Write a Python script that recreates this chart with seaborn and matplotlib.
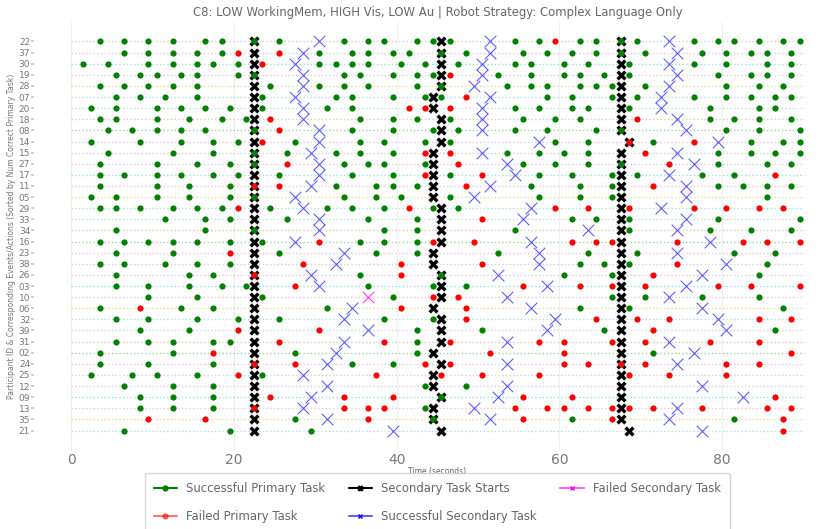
import numpy as np
import pandas as pd
import matplotlib
matplotlib.use("Agg")
import matplotlib.pyplot as plt
from matplotlib.lines import Line2D
import seaborn as sns

# Participants, top to bottom (sorted by number of correct primary tasks)
participants = ["22", "37", "30", "19", "28", "07", "20", "18", "08", "14",
                "15", "27", "17", "11", "05", "29", "33", "34", "16", "23",
                "38", "26", "03", "10", "06", "32", "39", "31", "02", "24",
                "25", "12", "09", "13", "35", "21"]

session_length = 90.0  # seconds

# Event times (seconds), one list per participant in the order above
success_primary = [
    [3.5, 6.5, 9.5, 12.5, 16.5, 18.5, 22.5, 25.5, 33.5, 36.5, 38.5, 42.5, 44.5, 46.5, 54.5, 57.5, 62.5, 64.5, 67.5, 69.5, 76.5, 79.5, 81.5, 84.5, 87.5, 89.5],
    [6.5, 9.5, 12.5, 15.5, 18.5, 30.5, 34.5, 36.5, 39.5, 41.5, 45.5, 48.5, 55.5, 58.5, 61.5, 64.5, 67.5, 70.5, 77.5, 80.5, 83.5, 85.5, 88.5],
    [1.5, 4.5, 9.5, 12.5, 15.5, 17.5, 20.5, 30.5, 32.5, 34.5, 36.5, 40.5, 43.5, 47.5, 54.5, 56.5, 60.5, 63.5, 68.5, 76.5, 80.5, 85.5, 88.5],
    [5.5, 8.5, 10.5, 13.5, 15.5, 20.5, 22.5, 33.5, 35.5, 39.5, 42.5, 44.5, 52.5, 56.5, 60.5, 62.5, 65.5, 68.5, 79.5, 83.5, 85.5, 88.5],
    [3.5, 6.5, 9.5, 12.5, 15.5, 24.5, 30.5, 33.5, 36.5, 42.5, 45.5, 53.5, 56.5, 58.5, 62.5, 64.5, 66.5, 70.5, 80.5, 84.5, 87.5],
    [5.5, 8.5, 11.5, 15.5, 23.5, 32.5, 34.5, 39.5, 43.5, 45.5, 58.5, 61.5, 66.5, 69.5, 76.5, 80.5, 83.5, 86.5, 88.5],
    [2.5, 5.5, 10.5, 13.5, 16.5, 19.5, 23.5, 31.5, 34.5, 54.5, 57.5, 61.5, 63.5, 68.5, 78.5, 84.5, 86.5],
    [3.5, 5.5, 10.5, 14.5, 18.5, 21.5, 35.5, 39.5, 42.5, 46.5, 55.5, 59.5, 62.5, 78.5, 81.5, 84.5, 88.5],
    [4.5, 7.5, 10.5, 13.5, 16.5, 22.5, 34.5, 39.5, 44.5, 47.5, 54.5, 58.5, 64.5, 67.5, 80.5, 84.5, 89.5],
    [2.5, 8.5, 13.5, 17.5, 20.5, 27.5, 35.5, 38.5, 43.5, 46.5, 59.5, 63.5, 71.5, 83.5, 87.5, 89.5],
    [4.5, 12.5, 17.5, 22.5, 26.5, 32.5, 35.5, 39.5, 53.5, 57.5, 60.5, 63.5, 79.5, 83.5, 86.5, 89.5],
    [3.5, 10.5, 15.5, 19.5, 22.5, 33.5, 36.5, 38.5, 43.5, 55.5, 59.5, 63.5, 67.5, 79.5, 85.5, 88.5],
    [3.5, 6.5, 10.5, 13.5, 17.5, 20.5, 25.5, 34.5, 39.5, 46.5, 57.5, 61.5, 66.5, 69.5, 77.5, 81.5],
    [3.5, 10.5, 14.5, 19.5, 32.5, 37.5, 39.5, 42.5, 56.5, 62.5, 66.5, 79.5, 82.5, 85.5, 88.5],
    [2.5, 5.5, 10.5, 14.5, 19.5, 22.5, 33.5, 37.5, 40.5, 46.5, 57.5, 62.5, 66.5, 85.5],
    [3.5, 5.5, 8.5, 12.5, 15.5, 18.5, 24.5, 31.5, 34.5, 38.5, 44.5, 47.5],
    [11.5, 16.5, 19.5, 26.5, 36.5, 42.5, 61.5, 64.5, 68.5, 79.5, 89.5],
    [5.5, 16.5, 22.5, 38.5, 42.5, 54.5, 68.5, 78.5, 83.5, 88.5],
    [3.5, 6.5, 9.5, 12.5, 15.5, 19.5, 23.5, 35.5, 38.5, 42.5],
    [5.5, 12.5, 25.5, 37.5, 42.5, 52.5, 63.5, 69.5, 81.5, 86.5],
    [3.5, 6.5, 11.5, 15.5, 19.5, 62.5, 65.5, 68.5, 85.5],
    [5.5, 14.5, 17.5, 35.5, 45.5, 60.5, 66.5, 84.5],
    [5.5, 9.5, 14.5, 18.5, 21.5, 36.5, 44.5, 48.5],
    [9.5, 15.5, 23.5, 39.5, 66.5, 70.5, 77.5, 84.5],
    [3.5, 13.5, 17.5, 31.5, 62.5, 68.5, 87.5],
    [5.5, 9.5, 15.5, 20.5, 25.5, 38.5, 44.5],
    [8.5, 14.5, 42.5, 50.5, 65.5, 86.5],
    [5.5, 9.5, 12.5, 17.5, 19.5, 42.5],
    [3.5, 12.5, 27.5, 42.5, 71.5],
    [3.5, 9.5, 17.5, 34.5, 39.5],
    [2.5, 7.5, 10.5, 15.5, 23.5],
    [6.5, 12.5, 17.5, 43.5, 48.5],
    [8.5, 12.5, 17.5, 45.5],
    [8.5, 12.5, 17.5, 43.5],
    [27.5, 44.5, 61.5, 81.5],
    [6.5, 19.5, 29.5],
]

failed_primary = [
    [59.5],
    [20.5, 25.5],
    [23.5],
    [46.5],
    [],
    [48.5],
    [41.5, 43.5, 46.5],
    [24.5, 69.5],
    [25.5],
    [23.5, 68.5, 76.5],
    [43.5, 46.5, 70.5],
    [26.5, 47.5, 73.5],
    [43.5, 50.5, 86.5],
    [22.5, 25.5, 48.5, 71.5],
    [],
    [20.5, 41.5, 59.5, 63.5, 68.5, 76.5, 80.5, 84.5, 87.5],
    [50.5],
    [],
    [30.5, 44.5, 49.5, 61.5, 64.5, 66.5, 74.5, 82.5, 85.5, 89.5],
    [19.5],
    [28.5, 40.5, 50.5, 74.5],
    [22.5, 40.5, 71.5],
    [27.5, 55.5, 62.5, 66.5, 70.5, 79.5, 83.5, 89.5],
    [44.5, 47.5],
    [8.5, 40.5, 48.5],
    [48.5, 64.5, 69.5, 73.5, 84.5, 88.5],
    [20.5, 30.5, 71.5],
    [25.5, 38.5, 46.5, 57.5, 60.5, 66.5, 70.5, 78.5, 84.5],
    [17.5, 51.5, 60.5, 88.5],
    [22.5, 27.5, 43.5, 46.5, 60.5, 63.5, 67.5, 70.5, 80.5, 84.5],
    [20.5, 37.5, 45.5, 50.5, 57.5, 68.5, 73.5, 80.5],
    [],
    [24.5, 33.5, 39.5, 55.5, 61.5, 86.5],
    [22.5, 33.5, 36.5, 38.5, 54.5, 58.5, 60.5, 63.5, 66.5, 68.5, 71.5, 77.5, 85.5, 88.5],
    [9.5, 16.5, 36.5, 55.5, 66.5, 87.5],
    [87.5],
]

secondary_start = [
    [22.5, 45.5, 67.5], [22.5, 45.5, 67.5], [22.5, 45.5, 67.5], [22.5, 45.5, 67.5],
    [22.5, 45.5, 67.5], [22.5, 44.5, 67.5], [22.5, 44.5, 67.5], [22.5, 45.5, 67.5],
    [22.5, 45.5, 67.5], [22.5, 45.5, 68.5], [22.5, 44.5, 67.5], [22.5, 44.5, 67.5],
    [22.5, 44.5, 67.5], [22.5, 44.5, 67.5], [22.5, 44.5, 67.5], [22.5, 45.5, 67.5],
    [22.5, 45.5, 67.5], [22.5, 45.5, 67.5], [22.5, 45.5, 67.5], [22.5, 44.5, 67.5],
    [22.5, 44.5, 67.5], [22.5, 45.5, 67.5], [22.5, 45.5, 67.5], [22.5, 45.5, 67.5],
    [22.5, 44.5, 67.5], [22.5, 45.5, 67.5], [22.5, 45.5, 67.5], [22.5, 45.5, 67.5],
    [22.5, 44.5, 67.5], [22.5, 45.5, 67.5], [22.5, 44.5, 67.5], [22.5, 44.5, 67.5],
    [22.5, 45.5, 67.5], [22.5, 44.5, 67.5], [22.5, 44.5, 67.5], [22.5, 45.5, 68.5],
]

success_secondary = [
    [30.5, 51.5, 73.5], [28.5, 51.5, 74.5], [27.5, 50.5, 73.5], [28.5, 50.5, 74.5],
    [28.5, 49.5, 73.5], [27.5, 51.5, 72.5], [28.5, 50.5, 72.5], [28.5, 50.5, 74.5],
    [30.5, 50.5, 75.5], [30.5, 57.5, 79.5], [29.5, 50.5, 74.5], [30.5, 53.5, 76.5],
    [30.5, 54.5, 73.5], [29.5, 51.5, 75.5], [27.5, 49.5, 75.5], [28.5, 56.5, 72.5],
    [30.5, 55.5, 75.5], [30.5, 63.5, 74.5], [27.5, 56.5, 78.5], [33.5, 57.5, 74.5],
    [32.5, 57.5, 80.5], [29.5, 52.5, 77.5], [30.5, 58.5, 75.5], [53.5, 73.5],
    [34.5, 56.5, 77.5], [33.5, 59.5, 79.5], [36.5, 58.5, 80.5], [33.5, 53.5, 73.5],
    [32.5, 76.5], [31.5, 53.5, 74.5], [28.5], [31.5, 53.5, 77.5],
    [29.5, 52.5, 82.5], [28.5, 49.5, 74.5], [31.5, 51.5, 73.5], [39.5, 77.5],
]

failed_secondary = [[] for _ in participants]
failed_secondary[participants.index("10")] = [36.5]

title = "C8: LOW WorkingMem, HIGH Vis, LOW Au | Robot Strategy: Complex Language Only"

# ---- long-form table -------------------------------------------------------
event_series = {
    "Successful Primary Task": success_primary,
    "Failed Primary Task": failed_primary,
    "Secondary Task Starts": secondary_start,
    "Successful Secondary Task": success_secondary,
    "Failed Secondary Task": failed_secondary,
}
records = []
for event, series in event_series.items():
    for row, times in enumerate(series):
        for t in times:
            records.append((participants[row], row, t, event))
events = pd.DataFrame(records, columns=["participant", "row", "time", "event"])

timeline = pd.DataFrame({
    "participant": np.repeat(participants, 2),
    "row": np.repeat(np.arange(len(participants)), 2),
    "time": np.tile([0.0, session_length], len(participants)),
})

# ---- styling ---------------------------------------------------------------
sns.set_theme(style="whitegrid")
plt.rcParams["font.family"] = ["DejaVu Sans"]

line_cycle = ["#2ca02c", "#e377c2", "#9a9a9a", "#d17fd0", "#17becf",
              "#e87fa8", "#bcbd22", "#4fb7d6", "#90aab8", "#c9874a"]
row_palette = {p: line_cycle[(i + 2) % len(line_cycle)] for i, p in enumerate(participants)}

styles = {
    "Secondary Task Starts": dict(color="black", marker="X", s=60, edgecolor="white", linewidth=0.3, zorder=3),
    "Successful Secondary Task": dict(color="#2a2aff", marker="x", s=70, linewidth=0.8, alpha=0.75, zorder=4),
    "Failed Secondary Task": dict(color="magenta", marker="x", s=70, linewidth=0.8, alpha=0.75, zorder=4),
    "Successful Primary Task": dict(color="green", marker="o", s=20, linewidth=0, zorder=5),
    "Failed Primary Task": dict(color="red", marker="o", s=20, linewidth=0, zorder=5),
}

W, H = 831, 529
fig = plt.figure(figsize=(W / 100, H / 100), dpi=100)
left_px, right_px, top_px, bottom_px = 34.4, 840.3, 22.0, 450.0
ax = fig.add_axes([left_px / W, 1 - bottom_px / H,
                   (right_px - left_px) / W, (bottom_px - top_px) / H])

sns.lineplot(data=timeline, x="time", y="row", hue="participant", palette=row_palette,
             estimator=None, sort=False, legend=False, linestyle=":", linewidth=1.0,
             alpha=0.45, ax=ax, zorder=1)

for event in ["Secondary Task Starts", "Successful Secondary Task", "Failed Secondary Task",
              "Successful Primary Task", "Failed Primary Task"]:
    sub = events[events["event"] == event]
    if len(sub):
        sns.scatterplot(data=sub, x="time", y="row", legend=False, ax=ax, **styles[event])

n = len(participants)
ax.set_xlim(-4.5, 94.5)
ax.set_ylim(n - 1 + 1.75, -1.75)
ax.set_xticks([0, 20, 40, 60, 80])
ax.set_yticks(np.arange(n))
ax.set_yticklabels(participants)
ax.tick_params(axis="x", labelsize=10, colors="#777777", pad=2.5, length=0)
ax.tick_params(axis="y", labelsize=6.5, colors="#777777", pad=1, length=2, left=True, color="#cccccc")
ax.grid(axis="y", visible=False)
ax.grid(axis="x", color="#efefef", linewidth=0.8)
for s in ax.spines.values():
    s.set_visible(False)

ax.set_xlabel("Time (seconds)", fontsize=5.5, color="#666666", labelpad=0)
ax.set_ylabel("Participant ID & Corresponding Events/Actions (Sorted by Num Correct Primary Task)",
              fontsize=5.5, color="#777777", labelpad=2)
ax.set_title(title, fontsize=8.4, color="#666666", pad=4.5)

handles = [
    Line2D([], [], color="green", marker="o", markersize=3.5),
    Line2D([], [], color="red", alpha=0.55, marker="o", markersize=3.5, markerfacecolor="red", markeredgecolor="red"),
    Line2D([], [], color="black", marker="X", markersize=3.5),
    Line2D([], [], color="#6060ff", marker="x", markersize=3.5, markeredgecolor="blue"),
    Line2D([], [], color="#ff60ff", marker="x", markersize=3.5, markeredgecolor="magenta"),
]
labels = list(event_series.keys())
leg = ax.legend(handles, labels, loc="upper center", bbox_to_anchor=(0.5, -0.0535), ncol=3,
                fontsize=8.4, frameon=True, borderpad=0.75, borderaxespad=0, columnspacing=2.0,
                handlelength=2.0, labelspacing=1.3)
for txt in leg.get_texts():
    txt.set_color("#666666")
leg.get_frame().set_edgecolor("#cccccc")

fig.savefig("out.png", dpi=100)
